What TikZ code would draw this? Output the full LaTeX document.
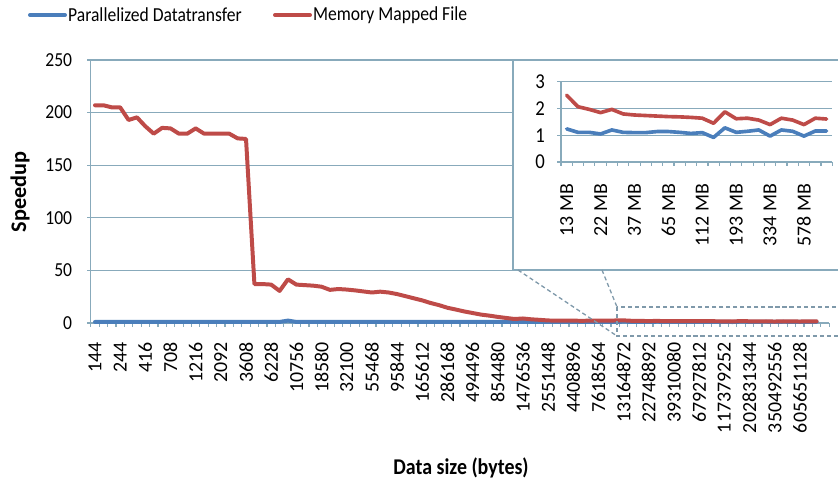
\documentclass[tikz,border=0pt]{standalone}
\usepackage{fontspec}
\setmainfont{Carlito}
\usetikzlibrary{calc}
\definecolor{serblue}{HTML}{4A7EBB}
\definecolor{serred}{HTML}{BE4B48}
\definecolor{gridc}{HTML}{88AABB}
\definecolor{zoomc}{HTML}{7F99AA}
\newcommand{\mainred}{207,207,205,205,193,195.5,187,180,185.5,185,180,180,185,180,180,180,180,175.5,175,37,37,36.5,30.5,41.5,36.5,36,35.5,34.5,31.5,32.3,31.8,31,30,29,29.8,29,27.5,25.5,23.5,21.5,19,17,14.5,12.8,11,9.5,8,7,5.8,4.8,3.8,4.3,3.5,3,2.4,2.3,2.2,2.2,2.1,2.2,2.3,2.2,2.4}
\newcommand{\tailred}{2.5,2.07,1.97,1.85,1.97,1.8,1.76,1.74,1.72,1.7,1.69,1.67,1.64,1.45,1.88,1.62,1.64,1.57,1.4,1.64,1.57,1.4,1.64,1.61}
\newcommand{\tailblue}{1.24,1.11,1.11,1.05,1.2,1.11,1.1,1.1,1.14,1.14,1.11,1.07,1.1,0.92,1.28,1.11,1.15,1.2,0.97,1.2,1.15,0.97,1.16,1.16}
\tikzset{gridln/.style={gridc,line width=1pt},
  ser/.style={line width=3.4pt,line join=round,line cap=round},
  tall/.style={yscale=1.13,transform shape},
  ticklab/.style={rotate=90,anchor=east,inner sep=0pt,font=\fontsize{17}{17}\selectfont},
  ylab/.style={tall,anchor=east,inner sep=0pt,font=\fontsize{15}{15}\selectfont},
  ttl/.style={font=\bfseries\fontsize{17}{17}\selectfont},
  legtxt/.style={tall,anchor=west,inner sep=1pt,font=\fontsize{15}{15}\selectfont},
  zoomln/.style={zoomc,line width=1.1pt,dash pattern=on 3.5pt off 2.5pt}}

\begin{document}
\begin{tikzpicture}[x=0.03cm,y=-0.03cm]
\useasboundingbox (0,0) rectangle (838,484);
% legend
\draw[ser,serblue] (30,15) -- (65,15) node[legtxt,black] (lgb) {Parallelized Datatransfer};
\draw[ser,serred] (275,15) -- (310,15) node[legtxt,black] (lgr) {Memory Mapped File};

% main chart, one unit = one category / one speedup step
\begin{scope}[shift={(90.8,323)},x=0.2517cm,y=0.03156cm]
\foreach \g in {50,100,...,250} \draw[gridln] (0,\g) -- (88,\g);
\draw[gridln] (0,0) -- (88,0) (0,0) -- (0,250);
\foreach \k in {0,...,88} \draw[gridln] (\k,0) -- (\k,-3.8);
\foreach \g in {0,50,...,250} {\draw[gridln] (-0.4,\g) -- (0,\g); \node[ylab] at (-2.2,\g) {\g};}
\foreach \t [count=\k from 0] in {144,244,416,708,1216,2092,3608,6228,10756,18580,32100,55468,95844,165612,286168,494496,854480,1476536,2551448,4408896,7618564,13164872,22748892,39310080,67927812,117379252,202831344,350492556,605651128}
  \node[ticklab] at (3*\k+0.5,-18) {\t};
\draw[ser,serblue] (0.5,1) -- (22.5,1) -- (23.5,2.3) -- (24.5,1) -- (62.5,1)
  \foreach \v [count=\i from 63] in \tailblue {-- (\i+0.5,\v)};
\draw[ser,serred] (0.5,207) \foreach \v [count=\i from 0] in \mainred {-- (\i+0.5,\v)}
  \foreach \v [count=\i from 63] in \tailred {-- (\i+0.5,\v)};
\end{scope}

% inset
\draw[gridln,fill=white] (513,60) rectangle (845,270);
\begin{scope}[shift={(561,162)},x=0.339cm,y=0.801cm]
\foreach \g in {1,2,3} \draw[gridln] (0,\g) -- (24,\g);
\draw[gridln] (0,0) -- (24,0) (0,0) -- (0,3);
\foreach \k in {0,...,24} \draw[gridln] (\k,0) -- (\k,-0.15);
\foreach \g in {0,...,3} {\draw[gridln] (-0.35,\g) -- (0,\g); \node[ylab,font=\fontsize{16}{16}\selectfont] at (-1.4,\g) {\g};}
\foreach \t [count=\k from 0] in {13,22,37,65,112,193,334,578}
  \node[ticklab] at (3*\k+0.5,-0.8) {\t~MB};
\draw[ser,serblue,line width=3.1pt] (0.5,1.24) \foreach \v [count=\i from 0] in \tailblue {-- (\i+0.5,\v)};
\draw[ser,serred,line width=3.1pt] (0.5,2.5) \foreach \v [count=\i from 0] in \tailred {-- (\i+0.5,\v)};
\end{scope}

% zoom box
\coordinate (ia) at (518,270);
\coordinate (ib) at (602,270);
\coordinate (za) at (617,336);
\coordinate (zb) at (617,307);
\draw[zoomln] (zb) rectangle (845,336);
\draw[zoomln] (ia) -- (za) (ib) -- (zb);

% axis titles
\node[ttl,rotate=90,font=\bfseries\fontsize{19}{19}\selectfont] (ytl) at (20,192) {Speedup};
\node[ttl,tall] (xtl) at (461,468) {Data size (bytes)};
\end{tikzpicture}
\end{document}
